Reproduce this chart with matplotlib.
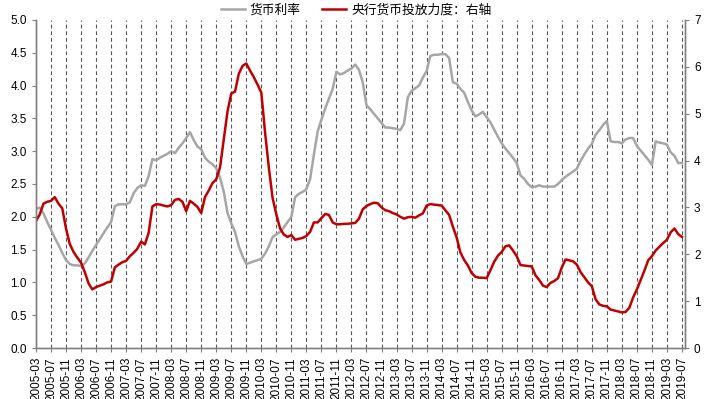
import matplotlib.pyplot as plt
import numpy as np
import pandas as pd

plt.rcParams['font.family'] = ['Liberation Sans', 'DejaVu Sans']

# 月度数据 2005-03 ~ 2019-07
months = pd.period_range('2005-03', '2019-07', freq='M').strftime('%Y-%m').tolist()

rate = [2.12, 2.14, 2.05, 1.92, 1.80, 1.68, 1.57, 1.45, 1.34, 1.28,
        1.26, 1.26, 1.25, 1.29, 1.38, 1.48, 1.57, 1.66, 1.75, 1.84,
        1.92, 2.16, 2.19, 2.19, 2.19, 2.22, 2.36, 2.44, 2.48, 2.47,
        2.62, 2.88, 2.86, 2.90, 2.93, 2.96, 3.00, 2.97, 3.05, 3.12,
        3.20, 3.29, 3.17, 3.07, 3.03, 2.90, 2.84, 2.80, 2.74, 2.60,
        2.38, 2.06, 1.90, 1.77, 1.55, 1.40, 1.28, 1.30, 1.32, 1.34,
        1.36, 1.44, 1.55, 1.69, 1.73, 1.77, 1.84, 1.92, 2.00, 2.30,
        2.35, 2.38, 2.42, 2.58, 2.95, 3.30, 3.48, 3.65, 3.80, 3.95,
        4.21, 4.17, 4.19, 4.23, 4.26, 4.32, 4.24, 4.05, 3.70, 3.64,
        3.57, 3.50, 3.43, 3.36, 3.36, 3.35, 3.34, 3.32, 3.42, 3.82,
        3.92, 3.96, 4.00, 4.12, 4.22, 4.45, 4.47, 4.47, 4.48, 4.48,
        4.42, 4.05, 4.03, 3.95, 3.89, 3.75, 3.62, 3.53, 3.56, 3.60,
        3.52, 3.44, 3.33, 3.22, 3.12, 3.04, 2.97, 2.90, 2.82, 2.63,
        2.58, 2.50, 2.45, 2.46, 2.48, 2.46, 2.46, 2.46, 2.46, 2.50,
        2.56, 2.61, 2.65, 2.69, 2.73, 2.85, 2.95, 3.04, 3.11, 3.25,
        3.32, 3.40, 3.46, 3.15, 3.14, 3.14, 3.12, 3.18, 3.20, 3.20,
        3.08, 3.01, 2.94, 2.87, 2.79, 3.15, 3.13, 3.12, 3.10, 2.98,
        2.93, 2.82, 2.82]

supply = [2.71, 2.85, 3.08, 3.12, 3.14, 3.22, 3.08, 2.98, 2.55, 2.22,
          2.05, 1.93, 1.82, 1.62, 1.38, 1.25, 1.30, 1.33, 1.36, 1.40,
          1.42, 1.72, 1.78, 1.83, 1.86, 1.96, 2.03, 2.12, 2.27, 2.21,
          2.46, 3.02, 3.07, 3.06, 3.04, 3.02, 3.05, 3.16, 3.18, 3.12,
          2.92, 3.14, 3.08, 3.01, 2.88, 3.22, 3.36, 3.52, 3.60, 3.85,
          4.45, 5.05, 5.43, 5.47, 5.85, 6.02, 6.07, 5.92, 5.78, 5.62,
          5.45, 4.60, 3.85, 3.20, 2.85, 2.55, 2.42, 2.37, 2.41, 2.31,
          2.33, 2.35, 2.39, 2.48, 2.68, 2.68, 2.77, 2.86, 2.84, 2.68,
          2.64, 2.64, 2.65, 2.65, 2.66, 2.67, 2.76, 2.96, 3.03, 3.07,
          3.10, 3.09, 3.00, 2.94, 2.92, 2.88, 2.85, 2.80, 2.76, 2.79,
          2.80, 2.78, 2.83, 2.87, 3.04, 3.07, 3.06, 3.05, 3.04, 2.94,
          2.84, 2.59, 2.36, 2.04, 1.88, 1.76, 1.60, 1.52, 1.50, 1.50,
          1.49, 1.66, 1.84, 1.97, 2.05, 2.17, 2.19, 2.08, 1.96, 1.77,
          1.76, 1.75, 1.74, 1.55, 1.45, 1.33, 1.30, 1.39, 1.43, 1.49,
          1.72, 1.89, 1.87, 1.85, 1.78, 1.62, 1.51, 1.40, 1.32, 1.04,
          0.93, 0.90, 0.89, 0.82, 0.80, 0.78, 0.76, 0.77, 0.86, 1.08,
          1.25, 1.45, 1.65, 1.87, 1.96, 2.08, 2.16, 2.24, 2.31, 2.47,
          2.55, 2.43, 2.37]

x = np.arange(len(months))
tick_pos = x[::4]
tick_labels = [months[i] for i in tick_pos]

fig = plt.figure(figsize=(7.18, 3.99), dpi=100)
ax = fig.add_axes([0.0501, 0.1278, 0.9039, 0.8222])
ax2 = ax.twinx()

l1, = ax.plot(x, rate, color='#A6A6A6', lw=1.8, label='货币利率')
l2, = ax2.plot(x, supply, color='#C00000', lw=1.8, label='央行货币投放力度：右轴')

ax.set_xlim(0, 172.8)
ax.set_ylim(0, 5)
ax2.set_ylim(0, 7)
ax.set_yticks(np.arange(0, 5.01, 0.5))
ax.set_yticklabels([f'{v:.1f}' for v in np.arange(0, 5.01, 0.5)])
ax2.set_yticks(range(0, 8))
ax.set_xticks(tick_pos)
ax.set_xticklabels(tick_labels, rotation=90)

# 竖向虚线网格
for p in tick_pos[1:]:
    ax.axvline(p, color='#595959', lw=0.8, ls=(0, (3.5, 2.5)), zorder=0)

for a in (ax, ax2):
    a.spines['top'].set_visible(False)
    for s in ('left', 'right', 'bottom'):
        a.spines[s].set_color('#808080')
        a.spines[s].set_linewidth(1.0)
    a.tick_params(labelsize=8.5, colors='#808080', labelcolor='black', length=3)

fig.legend(handles=[l1, l2], loc='center', bbox_to_anchor=(0.496, 0.975), ncol=2,
           frameon=False, handlelength=1.85, handletextpad=0.4, columnspacing=1.7,
           prop={'family': ['Noto Sans CJK SC', 'DejaVu Sans'], 'size': 9.2})

fig.savefig('out.png', dpi=100)
